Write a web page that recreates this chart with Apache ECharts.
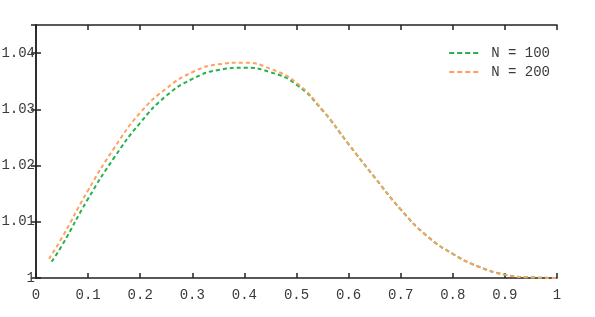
<!DOCTYPE html>
<html>
<head>
<meta charset="utf-8">
<script src="https://cdn.jsdelivr.net/npm/echarts@6/dist/echarts.min.js"></script>
<style>
html,body{margin:0;padding:0;background:#fff;}
#chart{width:595px;height:317px;}
</style>
</head>
<body>
<div id="chart"></div>
<script>
const seriesNames = ['N = 100', 'N = 200'];
const x100 = [0.03, 0.05, 0.1, 0.15, 0.2, 0.25, 0.3, 0.35, 0.4, 0.45, 0.5, 0.55, 0.6, 0.65, 0.7, 0.75, 0.8, 0.85, 0.9, 0.95, 1.0];
const y100 = [1.0029, 1.0058, 1.0141, 1.0214, 1.0276, 1.0324, 1.0354, 1.0370, 1.0374, 1.0366, 1.0344, 1.0298, 1.0238, 1.0179, 1.0122, 1.0075, 1.0043, 1.0020, 1.0006, 1.0001, 1.0000];
const x200 = [0.025, 0.05, 0.1, 0.15, 0.2, 0.25, 0.3, 0.35, 0.4, 0.45, 0.5, 0.55, 0.6, 0.65, 0.7, 0.75, 0.8, 0.85, 0.9, 0.95, 1.0];
const y200 = [1.0034, 1.0072, 1.0156, 1.0231, 1.0294, 1.0337, 1.0366, 1.0380, 1.0383, 1.0372, 1.0347, 1.0299, 1.0238, 1.0179, 1.0122, 1.0075, 1.0043, 1.0020, 1.0006, 1.0001, 1.0000];
const colors = ['#22b24f', '#ffa160'];

const font = '"Liberation Mono", "Courier New", monospace';
const textColor = '#3a3a3a';
const axisLine = {show: true, lineStyle: {color: '#222', width: 1.5}};
const tick = {show: true, inside: true, length: 5, lineStyle: {color: '#222', width: 1.5}};
const dashIcon = 'path://M0,0h5v2h-5z M8,0h5v2h-5z M16,0h5v2h-5z M24,0h5v2h-5z';

const chart = echarts.init(document.getElementById('chart'), null, {renderer: 'canvas'});
chart.setOption({
  animation: false,
  backgroundColor: '#fff',
  grid: {left: 36, right: 38, top: 25, bottom: 39, containLabel: false, outerBoundsMode: 'none'},
  legend: {
    data: seriesNames.map(n => ({name: n, icon: dashIcon})),
    orient: 'vertical',
    right: 45,
    top: 45,
    padding: 0,
    itemWidth: 29,
    itemHeight: 2,
    itemGap: 3,
    textStyle: {fontFamily: font, fontSize: 14, color: textColor, padding: [0, 0, 0, 8], lineHeight: 16}
  },
  xAxis: [{
    type: 'value', min: 0, max: 1, interval: 0.1, position: 'bottom',
    axisLine: axisLine, axisTick: tick, splitLine: {show: false},
    axisLabel: {fontFamily: font, fontSize: 14, color: textColor, margin: 10,
      formatter: v => String(+v.toFixed(1))}
  }, {
    type: 'value', min: 0, max: 1, interval: 0.1, position: 'top',
    axisLine: axisLine, axisTick: tick, splitLine: {show: false},
    axisLabel: {show: false}
  }],
  yAxis: [{
    type: 'value', min: 1, max: 1.045, interval: 0.01, position: 'left',
    axisLine: axisLine, axisTick: tick, splitLine: {show: false},
    axisLabel: {fontFamily: font, fontSize: 14, color: textColor, margin: 1, showMaxLabel: false,
      formatter: v => (v > 1.041 ? '' : String(+v.toFixed(2)))}
  }, {
    type: 'value', min: 1, max: 1.045, interval: 0.01, position: 'right',
    axisLine: axisLine, axisTick: tick, splitLine: {show: false},
    axisLabel: {show: false}
  }],
  series: [{
    name: seriesNames[0], type: 'line', smooth: true, showSymbol: false, symbol: 'none',
    data: x100.map((x, i) => [x, y100[i]]),
    lineStyle: {color: colors[0], width: 2, type: [4, 3]},
    itemStyle: {color: colors[0]}
  }, {
    name: seriesNames[1], type: 'line', smooth: true, showSymbol: false, symbol: 'none',
    data: x200.map((x, i) => [x, y200[i]]),
    lineStyle: {color: colors[1], width: 2, type: [4, 3]},
    itemStyle: {color: colors[1]}
  }]
});
</script>
</body>
</html>
